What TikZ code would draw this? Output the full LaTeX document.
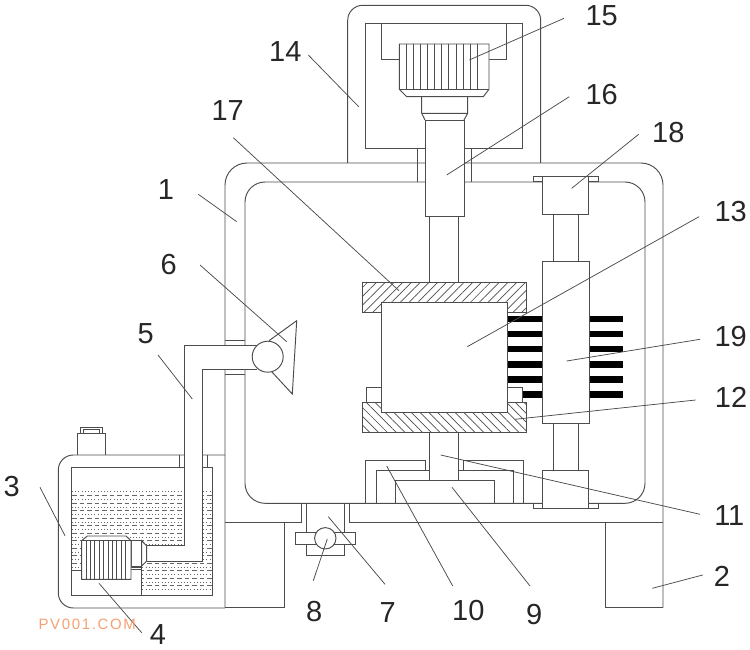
\documentclass[tikz,border=0pt]{standalone}
\usepackage{fontspec}
\setmainfont{Liberation Sans}
\newfontfamily\markfont[LetterSpace=11]{Liberation Sans}
\usetikzlibrary{patterns.meta}
\definecolor{partgray}{gray}{0.3}
\definecolor{markorange}{RGB}{245,160,115}
\tikzset{
  part/.style={draw=partgray,line width=0.95pt,line join=miter},
  whitepart/.style={part,fill=white},
  leader/.style={draw=partgray,line width=0.75pt},
  partlabel/.style={text=black!85,font=\fontsize{29}{29}\selectfont,inner sep=0pt},
  hatchup/.style={part,pattern={Lines[angle=45,distance=6.2pt,line width=0.7pt]},pattern color=partgray},
  hatchdown/.style={part,pattern={Lines[angle=-45,distance=6.2pt,line width=0.7pt]},pattern color=partgray},
  bar/.style={fill=black}
}
\begin{document}
\begin{tikzpicture}[x=1pt,y=-1pt]
\useasboundingbox (0,0) rectangle (750,650);
% tank and water
\foreach \y in {495.7,503.2,...,592} {
\draw[black!60,line width=0.9pt,dash pattern=on 4.5pt off 3pt] (72,\y) -- (212,\y);
\draw[black!60,line width=0.7pt,dash pattern=on 1pt off 2.2pt] (72,\y+3.7) -- (212,\y+3.7);
}
\draw[black!60,line width=0.7pt,dash pattern=on 1pt off 2.2pt] (72,491.5) -- (212,491.5);
\fill[white] (70,570) rectangle (141.7,594.5);
\draw[part,rounded corners=15] (225,455) -- (58.3,455) -- (58.3,608) -- (225,608);
\draw[part] (71,467.7) rectangle (212.3,595);
\draw[part] (179.3,455) -- (179.3,467.7) (207.3,455) -- (207.3,467.7);
\draw[part] (71,570) -- (81.7,570) (131,569.3) -- (141.7,569.3) (131,567) -- (141.7,567) (141.7,566) -- (141.7,595);
% tank cap
\draw[part] (77.3,455) -- (77.3,433.3) -- (105.7,433.3) -- (105.7,455);
\draw[part] (80,433.3) -- (80,427) -- (102.3,427) -- (102.3,433.3) (83,433.3) -- (83,429.5) -- (99.5,429.5) -- (99.5,433.3);
% frame and feet
\draw[part,rounded corners=22] (225,607.7) -- (225,163) -- (663,163) -- (663,607.7);
\draw[part,rounded corners=20] (245,345) -- (245,182) -- (645,182) -- (645,503.3) -- (245,503.3) -- (245,369);
\draw[part] (225,522) -- (301.7,522) (349.3,522) -- (663,522);
\draw[part] (284,522) -- (284,607.7) -- (225,607.7);
\draw[part] (605,522) -- (605,607.7) -- (663,607.7);
% top housing
\draw[part,rounded corners=15] (347.7,163) -- (347.7,5.3) -- (540.7,5.3) -- (540.7,163);
\draw[part] (365.7,148.3) rectangle (522.3,23.3);
\draw[part] (399.3,59.3) -- (381.3,59.3) -- (381.3,23.3) (489,59.3) -- (506.7,59.3) -- (506.7,23.3);
\draw[part] (417.3,148.3) -- (417.3,182) (471.7,148.3) -- (471.7,182);
% top motor
\draw[whitepart] (399.3,44) -- (489,44) -- (489,89.3) -- (483.3,96.7) -- (406.7,96.7) -- (399.3,89.3) -- cycle;
\draw[part] (399.3,89.3) -- (489,89.3);
\foreach \x in {406.3,413.4,...,482} \draw[part] (\x,44) -- (\x,89.3);
\draw[part] (421.7,96.7) -- (421.7,113.3) -- (425,120) (467.7,96.7) -- (467.7,113.3) -- (464,120) (421.7,113.3) -- (467.7,113.3);
\draw[whitepart] (425,120) rectangle (464,216.7);
% rods
\draw[part] (429.3,216.7) -- (429.3,282.3) (458.7,216.7) -- (458.7,282.3);
\draw[part] (429.3,432.7) -- (429.3,480) (458.7,432.7) -- (458.7,480);
% clamp blocks
\draw[hatchup] (362.3,282.3) -- (526.7,282.3) -- (526.7,312.7) -- (507.7,312.7) -- (507.7,302.3) -- (381,302.3) -- (381,312.7) -- (362.3,312.7) -- cycle;
\draw[hatchdown] (362.3,402.7) -- (381,402.7) -- (381,412.3) -- (507.7,412.3) -- (507.7,402.7) -- (526.7,402.7) -- (526.7,432.7) -- (362.3,432.7) -- cycle;
\draw[whitepart] (381,302.3) rectangle (507.7,412.3);
\draw[part] (366.7,402.7) -- (366.7,387.3) -- (381,387.3) (507.7,387.3) -- (522.3,387.3) -- (522.3,402.7);
% lower seat
\draw[part] (365.7,503.3) -- (365.7,460.3) -- (425.7,460.3) -- (425.7,470.7) (523.3,503.3) -- (523.3,460.3) -- (463.3,460.3) -- (463.3,470.7);
\draw[part] (376,503.3) -- (376,470.7) -- (429.3,470.7) (513.3,503.3) -- (513.3,470.7) -- (458.7,470.7);
\draw[part] (395,503.3) -- (395,480) -- (494,480) -- (494,503.3);
% right guide
\draw[whitepart] (533.3,176.7) rectangle (598.3,181.7);
\draw[whitepart] (542.7,176.7) rectangle (588.7,214.3);
\draw[part] (553.3,214.3) -- (553.3,261.7) (578.3,214.3) -- (578.3,261.7);
\draw[part] (553.3,423.3) -- (553.3,470.7) (578.3,423.3) -- (578.3,470.7);
\draw[whitepart] (533.3,503.3) rectangle (598.3,508.3);
\draw[whitepart] (542.7,470.7) rectangle (588.3,508.3);
\draw[whitepart] (542,261.7) rectangle (589.3,423.3);
\foreach \y in {319,334,349,364.3,379.3} \fill[bar] (508.3,\y-3.3) rectangle (542,\y+3.3);
\fill[bar] (522.8,391.4) rectangle (542,398);
\foreach \y in {319,334,349,364.3,379.3,394.7} \fill[bar] (589.8,\y-3.3) rectangle (623.3,\y+3.3);
% pump motor and pipe
\fill[white] (257,345) -- (184.3,345) -- (184.3,545) -- (146.7,545) -- (146.7,561.7) -- (202.3,561.7) -- (202.3,369) -- (257,369) -- cycle;
\draw[part] (257,345) -- (184.3,345) -- (184.3,545) -- (146.7,545) (257,369) -- (202.3,369) -- (202.3,561.7) -- (146.7,561.7);
\draw[part] (225,340) -- (245,340) (225,374.3) -- (245,374.3);
\draw[part] (269,340.7) -- (296.7,320.7) -- (292.3,394) -- (271.7,371.7);
\draw[whitepart] (267.7,356.7) circle (15.5);
\draw[whitepart] (131,540.7) rectangle (141.7,566);
\draw[whitepart] (141.7,540.7) -- (146.7,546) -- (146.7,561) -- (141.7,566) -- cycle;
\draw[whitepart] (81.7,540.7) -- (87.3,536) -- (126,536) -- (131,540.7) -- (131,579.3) -- (81.7,579.3) -- cycle;
\draw[part] (81.7,540.7) -- (131,540.7);
\foreach \x in {86.1,90.5,...,128} \draw[part] (\x,540.7) -- (\x,579.3);
% drain valve
\fill[white] (301.7,503.9) rectangle (349.3,528);
\draw[part] (301.7,503.3) -- (301.7,522) (349.3,503.3) -- (349.3,522);
\draw[part] (306.7,503.3) -- (306.7,555) -- (344,555) -- (344,503.3);
\draw[whitepart] (295.7,532.3) rectangle (355.7,544.3);
\draw[whitepart] (325.3,538.3) circle (10.7);
% labels with leaders
\foreach \n/\lx/\ly/\ex/\ey/\tx/\ty in {
1/166/189.3/198.3/194.3/236.7/221.7,
2/722/576.7/702.7/575/652.3/588.3,
3/11.7/486.7/40/487.3/65/535.7,
4/158/635/141.7/632.7/99/583.3,
5/145.7/334/158/355/192.3/399,
6/168.7/265/200/265/286.7/341.7,
7/387.7/612.7/385/584.3/328.3/516.7,
8/314.3/611.7/313.3/580.7/327.3/539,
9/534.3/614.3/530/586/452/487.3,
10/468.3/611/452.7/586/386.7/466,
11/729.3/515.7/700/514.3/440.7/455,
12/731/397.3/695.7/400/515/419.3,
13/730.7/211.7/699/216.7/467.3/346.7,
14/285.3/51.7/308.3/55/358.7/106.7,
15/601.7/16/564/18.3/469.3/60,
16/601.7/94.3/569.3/96.7/446.7/175,
17/227.7/111/233.3/137.7/399/290.7,
18/668.3/133/638.7/134.3/571.7/188.3,
19/730.7/336.7/700/339.3/566.7/361} {
\node[partlabel] (lab\n) at (\lx,\ly) {\n};
\coordinate (end\n) at (\ex,\ey);
\coordinate (tip\n) at (\tx,\ty);
\draw[leader] (end\n) -- (tip\n);
}
\node[text=markorange,font=\markfont\fontsize{15}{15}\selectfont,inner sep=0pt] (watermark) at (87.3,624) {PV001.COM};
\end{tikzpicture}
\end{document}
